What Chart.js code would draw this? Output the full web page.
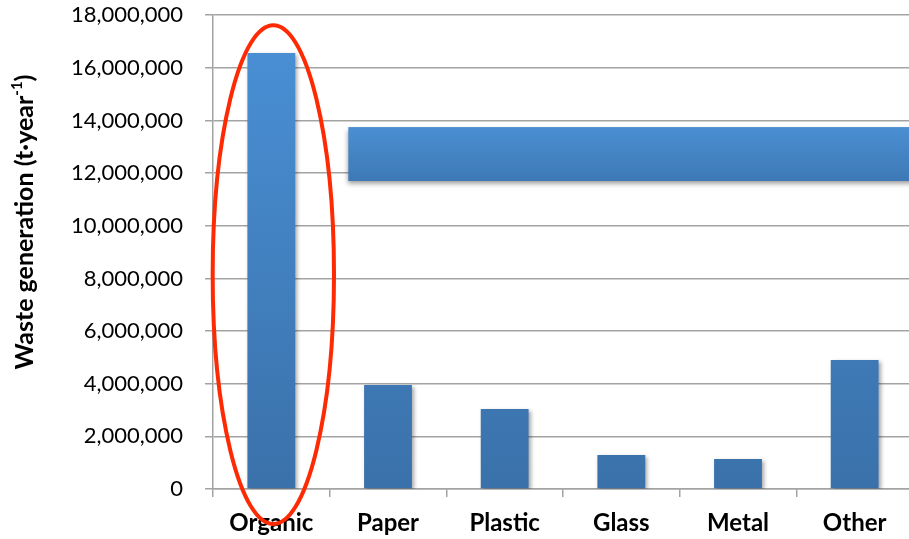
<!DOCTYPE html>
<html>
<head>
<meta charset="utf-8">
<script src="https://cdn.jsdelivr.net/npm/chart.js@4/dist/chart.umd.min.js"></script>
<style>
  html, body { margin: 0; padding: 0; background: #fff; overflow: hidden; }
  #wasteChart { display: block; margin-top: -20px; }
</style>
</head>
<body>
<canvas id="wasteChart" width="913" height="559"></canvas>
<script>
// Datos del gráfico
const categories = ['Organic', 'Paper', 'Plastic', 'Glass', 'Metal', 'Other'];
const wasteTonnes = [16560000, 3950000, 3040000, 1290000, 1140000, 4900000];
const yMin = 0;
const yMax = 18000000;
const yStep = 2000000;

const gridColor = '#a3a3a3';
const canvasShift = 20; // el canvas está desplazado hacia arriba

// sombra de las barras
const shadowPlugin = {
    id: 'barShadow',
    beforeDatasetsDraw(chart) {
        const ctx = chart.ctx;
        ctx.save();
        ctx.shadowColor = 'rgba(0,0,0,0.35)';
        ctx.shadowBlur = 4;
        ctx.shadowOffsetX = 2;
        ctx.shadowOffsetY = 2;
    },
    afterDatasetsDraw(chart) {
        chart.ctx.restore();
    }
};

// rectángulo azul y elipse roja
const overlayPlugin = {
    id: 'overlay',
    afterDatasetsDraw(chart) {
        const ctx = chart.ctx;
        const x = chart.scales.x, y = chart.scales.y;
        const catW = x.getPixelForValue(1) - x.getPixelForValue(0);

        // banner
        const bLeft = x.getPixelForValue(1) - 0.34 * catW;
        const bRight = chart.width + 5;
        const bTop = y.getPixelForValue(13750000);
        const bBottom = y.getPixelForValue(11700000);
        ctx.save();
        ctx.shadowColor = 'rgba(0,0,0,0.4)';
        ctx.shadowBlur = 5;
        ctx.shadowOffsetY = 3;
        const g = ctx.createLinearGradient(0, bTop, 0, bBottom);
        g.addColorStop(0, '#4a8fd2');
        g.addColorStop(1, '#3e79b6');
        ctx.fillStyle = g;
        ctx.fillRect(bLeft, bTop, bRight - bLeft, bBottom - bTop);
        ctx.restore();

        // elipse
        const cx = x.getPixelForValue(0) + 2;
        const top = y.getPixelForValue(17620000);
        const bottom = y.getPixelForValue(-1330000);
        ctx.save();
        ctx.beginPath();
        ctx.ellipse(cx, (top + bottom) / 2, 0.52 * catW, (bottom - top) / 2, 0, 0, Math.PI * 2);
        ctx.strokeStyle = '#fe2a04';
        ctx.lineWidth = 4;
        ctx.stroke();
        ctx.restore();
    }
};

// título del eje Y con superíndice
const yTitlePlugin = {
    id: 'yTitle',
    afterDraw(chart) {
        const ctx = chart.ctx;
        const main = 'Waste generation (t·year';
        const sup = '-1';
        const end = ')';
        ctx.save();
        ctx.font = 'bold 25px Lato';
        const wMain = ctx.measureText(main).width;
        const wEnd = ctx.measureText(end).width;
        ctx.font = 'bold 15px Lato';
        const wSup = ctx.measureText(sup).width;
        const total = wMain + wSup + wEnd;
        ctx.translate(25, 222 + canvasShift);
        ctx.rotate(-Math.PI / 2);
        ctx.fillStyle = '#000';
        ctx.textBaseline = 'middle';
        ctx.textAlign = 'left';
        let px = -total / 2;
        ctx.font = 'bold 25px Lato';
        ctx.fillText(main, px, 0);
        px += wMain;
        ctx.font = 'bold 15px Lato';
        ctx.fillText(sup, px, -8);
        px += wSup;
        ctx.font = 'bold 25px Lato';
        ctx.fillText(end, px, 0);
        ctx.restore();
    }
};

const ctx = document.getElementById('wasteChart').getContext('2d');

new Chart(ctx, {
    type: 'bar',
    data: {
        labels: categories,
        datasets: [{
            data: wasteTonnes,
            backgroundColor: (c) => {
                const area = c.chart.chartArea;
                if (!area) return '#4386c9';
                const el = c.element;
                const top = el && el.y !== undefined ? el.y : area.top;
                const bottom = c.chart.scales.y.getPixelForValue(0);
                if (!(bottom > top)) return '#4386c9';
                const g = c.chart.ctx.createLinearGradient(0, top, 0, bottom);
                g.addColorStop(0, '#4a91d7');
                g.addColorStop(1, '#3a71aa');
                return g;
            },
            borderWidth: 0,
            barPercentage: 0.41,
            categoryPercentage: 1
        }]
    },
    options: {
        responsive: false,
        animation: false,
        layout: { padding: { top: 5, right: 0, left: 0, bottom: 0 } },
        plugins: {
            legend: { display: false },
            tooltip: { enabled: false }
        },
        scales: {
            x: {
                grid: {
                    drawOnChartArea: false,
                    drawTicks: true,
                    tickLength: 8,
                    color: gridColor,
                    lineWidth: 1.5
                },
                border: { color: gridColor, width: 1.5 },
                ticks: {
                    color: '#000',
                    font: { family: 'Lato', size: 24, weight: 'bold' },
                    padding: 12
                },
                afterFit(scale) { scale.height = 50; }
            },
            y: {
                min: yMin,
                max: yMax,
                grid: {
                    color: gridColor,
                    lineWidth: 1.5,
                    tickLength: 8
                },
                border: { color: gridColor, width: 1.5 },
                ticks: {
                    stepSize: yStep,
                    color: '#000',
                    font: { family: 'Lato', size: 22 },
                    padding: 22,
                    callback: (v) => v.toLocaleString('en-US')
                },
                afterFit(scale) { scale.width = 213; }
            }
        }
    },
    plugins: [shadowPlugin, overlayPlugin, yTitlePlugin]
});
</script>
</body>
</html>
